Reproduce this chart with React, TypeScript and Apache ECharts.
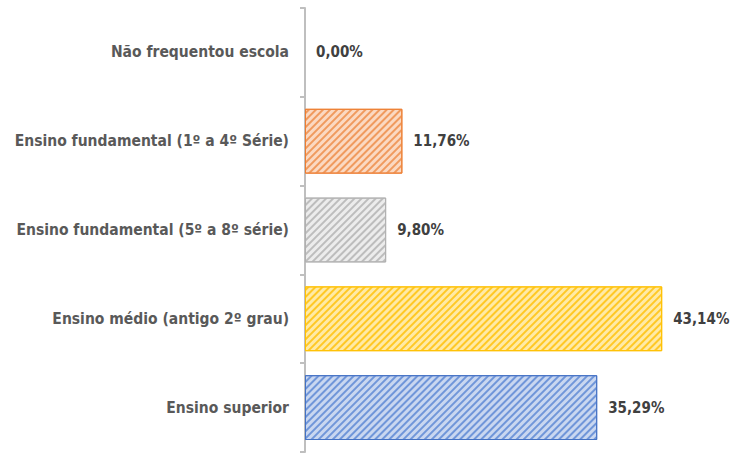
import React, { useEffect, useRef } from "react";
import * as echarts from "echarts";

const categories = [
  "Não frequentou escola",
  "Ensino fundamental (1º a 4º Série)",
  "Ensino fundamental (5º a 8º série)",
  "Ensino médio (antigo 2º grau)",
  "Ensino superior",
];
const values = [0, 11.76, 9.8, 43.14, 35.29];
const fillColors = ["#fbd9c2", "#fbd9c2", "#ececec", "#ffeaa6", "#c9d7f0"];
const stripeColors = ["#f09a5e", "#f09a5e", "#bdbdbd", "#ffc825", "#7096d9"];
const borderColors = ["#ed7d31", "#ed7d31", "#b0b0b0", "#ffc000", "#4472c4"];

export default function App() {
  const ref = useRef<HTMLDivElement>(null);
  useEffect(() => {
    if (!ref.current) return;
    const chart = echarts.init(ref.current, undefined, { renderer: "svg" });
    const font = "'DejaVu Sans Condensed', 'Liberation Sans Narrow', sans-serif";
    chart.setOption({
      animation: false,
      grid: {
        left: 305,
        right: 16,
        top: 8,
        bottom: 4,
        containLabel: false,
        outerBoundsMode: "none",
      },
      xAxis: {
        type: "value",
        min: 0,
        max: 50,
        show: false,
      },
      yAxis: {
        type: "category",
        data: categories,
        inverse: true,
        axisLine: { show: true, lineStyle: { color: "#bfbfbf", width: 2 } },
        axisTick: { show: true, length: 5, lineStyle: { color: "#bfbfbf", width: 2 } },
        axisLabel: {
          margin: 16,
          color: "#595959",
          fontFamily: font,
          fontWeight: "bold",
          fontSize: 15.5,
        },
        splitLine: { show: false },
      },
      series: [
        {
          type: "bar",
          barCategoryGap: "27%",
          data: values.map((v, i) => ({
            value: v,
            itemStyle: {
              color: fillColors[i],
              borderColor: borderColors[i],
              borderWidth: v === 0 ? 0 : 1,
              decal: {
                symbol: "rect",
                dashArrayX: [1, 0],
                dashArrayY: [1.2, 2.6],
                rotation: -Math.PI / 4,
                color: stripeColors[i],
              },
            },
          })),
          label: {
            show: true,
            position: "right",
            distance: 11,
            color: "#404040",
            fontFamily: font,
            fontWeight: "bold",
            fontSize: 15,
            formatter: (p: any) => p.value.toFixed(2).replace(".", ",") + "%",
          },
        },
      ],
    });
    return () => chart.dispose();
  }, []);
  return (
    <div
      ref={ref}
      style={{ position: "fixed", left: 0, top: 0, width: 735, height: 456, background: "#fff" }}
    />
  );
}
